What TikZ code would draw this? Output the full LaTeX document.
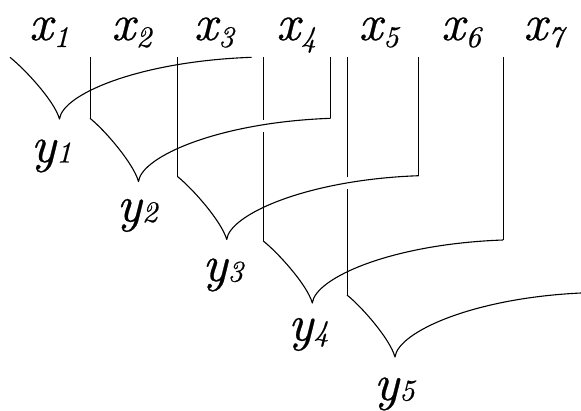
\documentclass[tikz,border=0pt]{standalone}
\usepackage{fontspec}
\newfontface\labfont{lmroman10-italic.otf}[FakeBold=0.5]
\newcommand{\xlab}[1]{{\labfont\fontsize{51}{51}\selectfont x\kern1pt\raisebox{-7pt}{\fontsize{30}{30}\selectfont #1}}}
\newcommand{\ylab}[1]{{\labfont\fontsize{51}{51}\selectfont y\kern0.5pt\raisebox{-0.5pt}{\fontsize{30}{30}\selectfont #1}}}
\tikzset{
  wire/.style={line width=1.1pt, line cap=butt, line join=round},
  stem/.style={line width=0.85pt, line cap=butt},
  lab/.style={inner sep=0pt, outer sep=0pt, anchor=base west}
}
\begin{document}
\begin{tikzpicture}[x=1pt,y=-1pt]
\useasboundingbox (0,0) rectangle (581,410);
% labels
\foreach \i in {1,...,7}{
  \node[lab] (x\i) at ({29+82.4*(\i-1)},40) {\xlab{\i}};
}
\foreach \i in {1,...,5}{
  \node[lab] (y\i) at ({31+85.75*(\i-1)},{162+59.5*(\i-1)}) {\ylab{\i}};
}
% points
\coordinate (S1) at (10,57.3);
\coordinate (S2) at (90,118.3);
\coordinate (S3) at (177.7,176.7);
\coordinate (S4) at (263.3,241);
\coordinate (S5) at (347,295);
\coordinate (C1) at (59.5,119);
\coordinate (C2) at (138.5,181.5);
\coordinate (C3) at (226.7,239.5);
\coordinate (C4) at (312.3,303);
\coordinate (C5) at (395,357);
\coordinate (E1) at (251.7,57.3);
\coordinate (E2) at (330.7,118.3);
\coordinate (E3) at (418.7,175.7);
\coordinate (E4) at (503,240);
\coordinate (E5) at (581,293);
% top ends of vertical lines
\coordinate (T2) at (90,57.3);
\coordinate (T3) at (177.7,57.3);
\coordinate (T4) at (263.3,57.3);
\coordinate (T5) at (347,57.3);
\coordinate (U2) at (330.7,57.3);
\coordinate (U3) at (418.7,57.3);
\coordinate (U4) at (503,57.3);
\coordinate (G4a) at (263.3,120);
\coordinate (G4b) at (263.3,132);
\coordinate (G5a) at (347,177);
\coordinate (G5b) at (347,189);
% verticals
\draw[stem] (T2) -- (S2);
\draw[stem] (T3) -- (S3);
\draw[stem] (T4) -- (G4a);
\draw[stem] (G4b) -- (S4);
\draw[stem] (T5) -- (G5a);
\draw[stem] (G5b) -- (S5);
\draw[stem] (U2) -- (E2);
\draw[stem] (U3) -- (E3);
\draw[stem] (U4) -- (E4);
% cusps
\foreach \k in {1,...,4}{
  \draw[wire] (S\k) .. controls +(15,12) and +(-5,-18) .. (C\k)
              .. controls +(3,-25) and +(-112,4) .. (E\k);
}
\draw[wire] (S5) .. controls +(15,12) and +(-5,-18) .. (C5)
            .. controls +(3,-25) and +(-108,5) .. (E5);
\end{tikzpicture}
\end{document}
